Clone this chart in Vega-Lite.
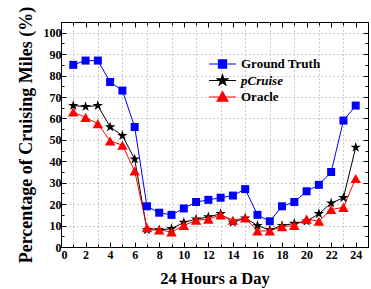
{
  "$schema": "https://vega.github.io/schema/vega-lite/v6.json",
  "width": 307,
  "height": 225,
  "autosize": "none",
  "padding": {"left": 61, "top": 22, "right": 3, "bottom": 42},
  "background": "white",
  "data": {
    "values": [
      {"hour": 1, "series": "Ground Truth", "value": 85},
      {"hour": 2, "series": "Ground Truth", "value": 87},
      {"hour": 3, "series": "Ground Truth", "value": 87},
      {"hour": 4, "series": "Ground Truth", "value": 77},
      {"hour": 5, "series": "Ground Truth", "value": 73},
      {"hour": 6, "series": "Ground Truth", "value": 56},
      {"hour": 7, "series": "Ground Truth", "value": 19},
      {"hour": 8, "series": "Ground Truth", "value": 16},
      {"hour": 9, "series": "Ground Truth", "value": 15},
      {"hour": 10, "series": "Ground Truth", "value": 18},
      {"hour": 11, "series": "Ground Truth", "value": 21},
      {"hour": 12, "series": "Ground Truth", "value": 22},
      {"hour": 13, "series": "Ground Truth", "value": 23},
      {"hour": 14, "series": "Ground Truth", "value": 24},
      {"hour": 15, "series": "Ground Truth", "value": 27},
      {"hour": 16, "series": "Ground Truth", "value": 15},
      {"hour": 17, "series": "Ground Truth", "value": 12},
      {"hour": 18, "series": "Ground Truth", "value": 19},
      {"hour": 19, "series": "Ground Truth", "value": 21},
      {"hour": 20, "series": "Ground Truth", "value": 26},
      {"hour": 21, "series": "Ground Truth", "value": 29},
      {"hour": 22, "series": "Ground Truth", "value": 35},
      {"hour": 23, "series": "Ground Truth", "value": 59},
      {"hour": 24, "series": "Ground Truth", "value": 66},
      {"hour": 1, "series": "pCruise", "value": 66},
      {"hour": 2, "series": "pCruise", "value": 65.5},
      {"hour": 3, "series": "pCruise", "value": 66},
      {"hour": 4, "series": "pCruise", "value": 56},
      {"hour": 5, "series": "pCruise", "value": 52},
      {"hour": 6, "series": "pCruise", "value": 41},
      {"hour": 7, "series": "pCruise", "value": 8},
      {"hour": 8, "series": "pCruise", "value": 8},
      {"hour": 9, "series": "pCruise", "value": 8.5},
      {"hour": 10, "series": "pCruise", "value": 11.5},
      {"hour": 11, "series": "pCruise", "value": 13},
      {"hour": 12, "series": "pCruise", "value": 14},
      {"hour": 13, "series": "pCruise", "value": 15.5},
      {"hour": 14, "series": "pCruise", "value": 11.5},
      {"hour": 15, "series": "pCruise", "value": 13.5},
      {"hour": 16, "series": "pCruise", "value": 10},
      {"hour": 17, "series": "pCruise", "value": 8},
      {"hour": 18, "series": "pCruise", "value": 10},
      {"hour": 19, "series": "pCruise", "value": 11},
      {"hour": 20, "series": "pCruise", "value": 12},
      {"hour": 21, "series": "pCruise", "value": 15.5},
      {"hour": 22, "series": "pCruise", "value": 20.5},
      {"hour": 23, "series": "pCruise", "value": 23},
      {"hour": 24, "series": "pCruise", "value": 46.5},
      {"hour": 1, "series": "Oracle", "value": 63},
      {"hour": 2, "series": "Oracle", "value": 60.5},
      {"hour": 3, "series": "Oracle", "value": 57.5},
      {"hour": 4, "series": "Oracle", "value": 49.5},
      {"hour": 5, "series": "Oracle", "value": 47.5},
      {"hour": 6, "series": "Oracle", "value": 35.5},
      {"hour": 7, "series": "Oracle", "value": 9},
      {"hour": 8, "series": "Oracle", "value": 8},
      {"hour": 9, "series": "Oracle", "value": 7},
      {"hour": 10, "series": "Oracle", "value": 10},
      {"hour": 11, "series": "Oracle", "value": 12.5},
      {"hour": 12, "series": "Oracle", "value": 13},
      {"hour": 13, "series": "Oracle", "value": 15},
      {"hour": 14, "series": "Oracle", "value": 12.5},
      {"hour": 15, "series": "Oracle", "value": 13.5},
      {"hour": 16, "series": "Oracle", "value": 7.5},
      {"hour": 17, "series": "Oracle", "value": 7.5},
      {"hour": 18, "series": "Oracle", "value": 9.5},
      {"hour": 19, "series": "Oracle", "value": 10},
      {"hour": 20, "series": "Oracle", "value": 13},
      {"hour": 21, "series": "Oracle", "value": 12},
      {"hour": 22, "series": "Oracle", "value": 17.5},
      {"hour": 23, "series": "Oracle", "value": 18.5},
      {"hour": 24, "series": "Oracle", "value": 32}
    ]
  },
  "layer": [
    {
      "mark": {"type": "line", "strokeWidth": 1},
      "encoding": {
        "x": {
          "field": "hour", "type": "quantitative",
          "scale": {"domain": [0, 25], "nice": false, "zero": false},
          "axis": {"orient": "bottom", "values": [0, 2, 4, 6, 8, 10, 12, 14, 16, 18, 20, 22, 24], "tickSize": -5, "labelPadding": 7, "labelFont": "Liberation Serif", "labelFontWeight": "bold", "grid": false, "title": "24 Hours a Day", "titleFontSize": 16.5, "titleBaseline": "alphabetic", "titleY": 36}
        },
        "y": {
          "field": "value", "type": "quantitative",
          "scale": {"domain": [0, 105], "nice": false},
          "axis": {"orient": "left", "values": [0, 10, 20, 30, 40, 50, 60, 70, 80, 90, 100], "tickSize": -5, "labelPadding": 5, "labelFont": "Liberation Serif", "labelFontWeight": "bold", "grid": true, "title": "Percentage of Cruising Miles (%)", "titleFontSize": 18, "titleBaseline": "alphabetic", "titleX": -30}
        },
        "color": {
          "field": "series", "type": "nominal", "sort": ["Ground Truth", "pCruise", "Oracle"],
          "scale": {"domain": ["Ground Truth", "pCruise", "Oracle"], "range": ["#0000ff", "#000000", "#ff0000"]},
          "legend": {
            "orient": "none", "legendX": 147, "legendY": 34, "title": null, "padding": 0,
            "symbolSize": 729, "clipHeight": 16, "rowPadding": 0.5, "labelOffset": 4, "symbolStrokeWidth": 1.2,
            "labelFont": "Liberation Serif", "labelFontSize": 13, "labelFontWeight": "bold", "labelColor": "black",
            "encode": {
              "symbols": {"update": {
                "shape": {"signal": "datum.value === 'Ground Truth' ? 'M-1,0H1M-0.3,-0.3H0.3V0.3H-0.3Z' : datum.value === 'pCruise' ? 'M-1,0H1M0,-0.41L0.092,-0.126L0.39,-0.127L0.148,0.048L0.241,0.332L0,0.156L-0.241,0.332L-0.148,0.048L-0.39,-0.127L-0.092,-0.126Z' : 'M-1,0H1M0,-0.4L0.4,0.3H-0.4Z'"},
                "fill": {"signal": "datum.value === 'Ground Truth' ? '#0000ff' : datum.value === 'pCruise' ? '#000000' : '#ff0000'"},
                "stroke": {"signal": "datum.value === 'Ground Truth' ? '#0000ff' : datum.value === 'pCruise' ? '#000000' : '#ff0000'"},
                "strokeWidth": {"value": 1.2},
                "size": {"value": 729},
                "opacity": {"value": 1}
              }},
              "labels": {"update": {"fontStyle": {"signal": "datum.value === 'pCruise' ? 'italic' : 'normal'"}}}
            }
          }
        },
        "detail": {"field": "series"}
      }
    },
    {
      "transform": [{"filter": "datum.series === 'Ground Truth'"}],
      "mark": {"type": "point", "shape": "square", "filled": true, "size": 64, "color": "#0000ff", "opacity": 1},
      "encoding": {
        "x": {"field": "hour", "type": "quantitative", "axis": {"orient": "bottom", "values": [1, 3, 5, 7, 9, 11, 13, 15, 17, 19, 21, 23], "tickSize": -3, "labels": false, "domain": false, "grid": true, "title": null}},
        "y": {"field": "value", "type": "quantitative", "axis": {"orient": "left", "values": [5, 15, 25, 35, 45, 55, 65, 75, 85, 95], "tickSize": -3, "labels": false, "domain": false, "grid": false, "title": null}}
      }
    },
    {
      "transform": [{"filter": "datum.series === 'pCruise'"}],
      "mark": {"type": "point", "shape": "M0,-1L0.223,-0.307L0.951,-0.309L0.361,0.117L0.588,0.809L0,0.38L-0.588,0.809L-0.361,0.117L-0.951,-0.309L-0.223,-0.307Z", "filled": true, "size": 120, "color": "#000000", "opacity": 1},
      "encoding": {
        "x": {"field": "hour", "type": "quantitative", "axis": {"orient": "top", "values": [0, 2, 4, 6, 8, 10, 12, 14, 16, 18, 20, 22, 24], "tickSize": -5, "labels": false, "grid": false, "title": null}},
        "y": {"field": "value", "type": "quantitative", "axis": {"orient": "right", "values": [0, 10, 20, 30, 40, 50, 60, 70, 80, 90, 100], "tickSize": -5, "labels": false, "grid": false, "title": null}}
      }
    },
    {
      "transform": [{"filter": "datum.series === 'Oracle'"}],
      "mark": {"type": "point", "shape": "triangle-up", "filled": true, "size": 110, "color": "#ff0000", "opacity": 1},
      "encoding": {
        "x": {"field": "hour", "type": "quantitative", "axis": {"orient": "top", "values": [1, 3, 5, 7, 9, 11, 13, 15, 17, 19, 21, 23], "tickSize": -3, "labels": false, "domain": false, "grid": false, "title": null}},
        "y": {"field": "value", "type": "quantitative", "axis": {"orient": "right", "values": [5, 15, 25, 35, 45, 55, 65, 75, 85, 95], "tickSize": -3, "labels": false, "domain": false, "grid": false, "title": null}}
      }
    }
  ],
  "resolve": {"axis": {"x": "independent", "y": "independent"}},
  "config": {
    "font": "Liberation Serif",
    "view": {"stroke": "black", "strokeWidth": 1},
    "axis": {
      "labelFont": "Liberation Serif", "labelFontWeight": "bold", "labelFontSize": 12, "labelColor": "black",
      "titleFont": "Liberation Serif", "titleFontWeight": "bold", "titleColor": "black",
      "domainColor": "black", "domainWidth": 1, "tickColor": "black", "tickWidth": 1,
      "gridColor": "#9a9a9a", "gridDash": [1, 3], "gridWidth": 1
    }
  }
}
